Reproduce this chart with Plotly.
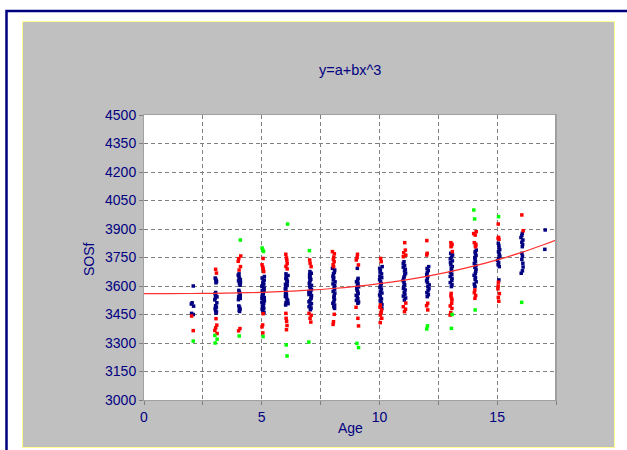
import plotly.graph_objects as go

# ---------------- data ----------------
navy_points = {
    2: [3600, 3512, 3505, 3494, 3456, 3450],
    3: [3642, 3636, 3629, 3624, 3617, 3566, 3559, 3550, 3543, 3537, 3527, 3512, 3496, 3489, 3481, 3471, 3464, 3457],
    4: [3664, 3657, 3647, 3641, 3633, 3627, 3618, 3612, 3604, 3577, 3568, 3562, 3551, 3545, 3535, 3528, 3495, 3488, 3478, 3472, 3466],
    5: [3650, 3642, 3631, 3627, 3616, 3610, 3602, 3598, 3589, 3583, 3576, 3572, 3563, 3559, 3551, 3547, 3539, 3534, 3526, 3522, 3513, 3507, 3498, 3492, 3483, 3477, 3468, 3461],
    6: [3664, 3655, 3649, 3639, 3633, 3624, 3618, 3609, 3603, 3593, 3587, 3578, 3571, 3561, 3556, 3545, 3539, 3529, 3523, 3513, 3507, 3500],
    7: [3676, 3667, 3661, 3651, 3645, 3635, 3629, 3619, 3613, 3603, 3597, 3587, 3581, 3571, 3565, 3555, 3549, 3539, 3533, 3523, 3517, 3507, 3500, 3491, 3484, 3475],
    8: [3693, 3684, 3672, 3664, 3651, 3643, 3632, 3622, 3611, 3603, 3591, 3582, 3571, 3562, 3550, 3541, 3530, 3520, 3509, 3500, 3491, 3482],
    9: [3693, 3640, 3631, 3622, 3613, 3604, 3596, 3587, 3578, 3569, 3560, 3551, 3542, 3533, 3524, 3516, 3509],
    10: [3702, 3693, 3684, 3673, 3664, 3652, 3644, 3633, 3624, 3612, 3604, 3593, 3584, 3572, 3563, 3553, 3543, 3532, 3522, 3512, 3502, 3491, 3482],
    11: [3728, 3719, 3708, 3699, 3688, 3679, 3668, 3659, 3648, 3639, 3628, 3619, 3607, 3598, 3588, 3579, 3567, 3557, 3547, 3537, 3526],
    12: [3702, 3692, 3681, 3671, 3660, 3650, 3638, 3627, 3617, 3606, 3596, 3586, 3575, 3565, 3554, 3544],
    13: [3772, 3763, 3752, 3743, 3732, 3723, 3712, 3702, 3692, 3681, 3671, 3661, 3650, 3640, 3629, 3618, 3607, 3597],
    14: [3789, 3780, 3769, 3760, 3749, 3740, 3729, 3719, 3708, 3698, 3688, 3677, 3666, 3656, 3645, 3635, 3622, 3610, 3597],
    15: [3825, 3814, 3802, 3791, 3780, 3768, 3757, 3745, 3734, 3722, 3712, 3702, 3632],
    16: [3877, 3866, 3855, 3842, 3830, 3818, 3807, 3772, 3757, 3740, 3720, 3700, 3680, 3667],
    17: [3895, 3793],
}
red_points = {
    2: [3442, 3365],
    3: [3688, 3668, 3428, 3394, 3380, 3366, 3350],
    4: [3758, 3744, 3730, 3702, 3684, 3376, 3364],
    5: [3745, 3712, 3700, 3688, 3676, 3454, 3395, 3385, 3353],
    6: [3767, 3748, 3736, 3718, 3703, 3690, 3456, 3430, 3414, 3392, 3370],
    7: [3737, 3720, 3702, 3456, 3446, 3430, 3410],
    8: [3781, 3770, 3752, 3740, 3728, 3712, 3702, 3451, 3412, 3398],
    9: [3767, 3750, 3737, 3711, 3488, 3430, 3390],
    10: [3745, 3728, 3500, 3488, 3474, 3460, 3447, 3430, 3407],
    11: [3828, 3789, 3775, 3762, 3754, 3510, 3491, 3478, 3465],
    12: [3839, 3772, 3763, 3509, 3496, 3474],
    13: [3828, 3820, 3812, 3807, 3781, 3561, 3548, 3535, 3526, 3509, 3495, 3482, 3460, 3447],
    14: [3886, 3876, 3868, 3828, 3820, 3812, 3807, 3579, 3565, 3550, 3535],
    15: [3926, 3856, 3850, 3846, 3620, 3600, 3585, 3560, 3540, 3520],
    16: [3974, 3891],
}
green_points = {
    2: [3310],
    3: [3340, 3320, 3300],
    4: [3842, 3337],
    5: [3800, 3790, 3782, 3334],
    6: [3926, 3290, 3232],
    7: [3786, 3305],
    9: [3298, 3276],
    12: [3390, 3374],
    13: [3450, 3377],
    14: [4000, 3953, 3474],
    15: [3965],
    16: [3514],
}
fit_a = 3560.0
fit_b = 0.0526
fit_ages = [0, 1, 2, 3, 4, 5, 6, 7, 8, 9, 10, 11, 12, 13, 14, 15, 16, 17, 17.5]

y_ticks = [3000, 3150, 3300, 3450, 3600, 3750, 3900, 4050, 4200, 4350, 4500]
x_ticks = [0, 2.5, 5, 7.5, 10, 12.5, 15, 17.5]
x_tick_text = ["0", "", "5", "", "10", "", "15", ""]

NAVY = "#000080"
FONT = "Liberation Sans, Arial, sans-serif"


def flatten(d):
    xs, ys = [], []
    for age, vals in d.items():
        for v in vals:
            xs.append(age)
            ys.append(v)
    return xs, ys


fig = go.Figure()
for pts, col in [(navy_points, NAVY), (red_points, "#FF0000"), (green_points, "#00FF00")]:
    xs, ys = flatten(pts)
    fig.add_trace(go.Box(
        x=xs, y=ys, boxpoints="all", jitter=0.6, pointpos=0.6, width=0.2,
        fillcolor="rgba(0,0,0,0)", line=dict(width=0, color="rgba(0,0,0,0)"),
        marker=dict(color=col, size=3.5, symbol="square"),
        showlegend=False, hoverinfo="x+y",
    ))

fig.add_trace(go.Scatter(
    x=fit_ages, y=[fit_a + fit_b * a ** 3 for a in fit_ages],
    mode="lines", line=dict(color="#FF3030", width=1.2, shape="spline"),
    showlegend=False, hoverinfo="skip",
))

W, H = 627, 450
L, R, T, B = 144, 71, 115, 50
pw, ph = W - L - R, H - T - B


def px(x):
    return (x - L) / pw


def py(y):
    return (H - B - y) / ph


shapes = [
    dict(type="rect", xref="paper", yref="paper", x0=px(6.5), x1=px(700), y0=py(11), y1=py(520),
         line=dict(color=NAVY, width=2.5), fillcolor="rgba(0,0,0,0)", layer="below"),
    dict(type="rect", xref="paper", yref="paper", x0=px(22.5), x1=px(614.5), y0=py(21.5), y1=py(447.5),
         line=dict(color="#FFFF90", width=1), fillcolor="#C0C0C0", layer="below"),
    dict(type="rect", xref="paper", yref="paper", x0=0, x1=1, y0=0, y1=1,
         line=dict(width=0), fillcolor="white", layer="below"),
    dict(type="line", xref="paper", yref="paper", x0=1, x1=1, y0=0, y1=1,
         line=dict(color="#A0A0A0", width=2), layer="above"),
]

annotations = [
    dict(text="y=a+bx^3", xref="paper", yref="paper", x=px(349.5), y=py(70), showarrow=False,
         xanchor="center", yanchor="middle", font=dict(family=FONT, size=14.5, color=NAVY)),
    dict(text="Age", xref="paper", yref="paper", x=px(350), y=py(428), showarrow=False,
         xanchor="center", yanchor="middle", font=dict(family=FONT, size=14, color=NAVY)),
    dict(text="SOSf", xref="paper", yref="paper", x=px(89), y=py(259), showarrow=False, textangle=-90,
         xanchor="center", yanchor="middle", font=dict(family=FONT, size=14, color=NAVY)),
]

fig.update_layout(
    width=W, height=H, margin=dict(l=L, r=R, t=T, b=B, pad=0),
    paper_bgcolor="white", plot_bgcolor="white",
    boxmode="overlay", shapes=shapes, annotations=annotations,
    font=dict(family=FONT, size=14, color=NAVY),
)
fig.update_xaxes(
    range=[0, 17.5], tickvals=x_ticks, ticktext=x_tick_text,
    showgrid=True, gridcolor="#808080", griddash="4px,3px", gridwidth=1,
    showline=True, linecolor="#A0A0A0", linewidth=1, mirror=True,
    ticks="outside", ticklen=4, tickcolor="#808080", zeroline=False,
    tickfont=dict(family=FONT, size=14, color=NAVY),
)
fig.update_yaxes(
    range=[3000, 4500], tickvals=y_ticks,
    showgrid=True, gridcolor="#808080", griddash="4px,3px", gridwidth=1,
    showline=True, linecolor="#A0A0A0", linewidth=1, mirror=True,
    ticks="outside", ticklen=4, tickcolor="#808080", zeroline=False,
    tickfont=dict(family=FONT, size=14, color=NAVY),
)

fig.write_html("out.html")
